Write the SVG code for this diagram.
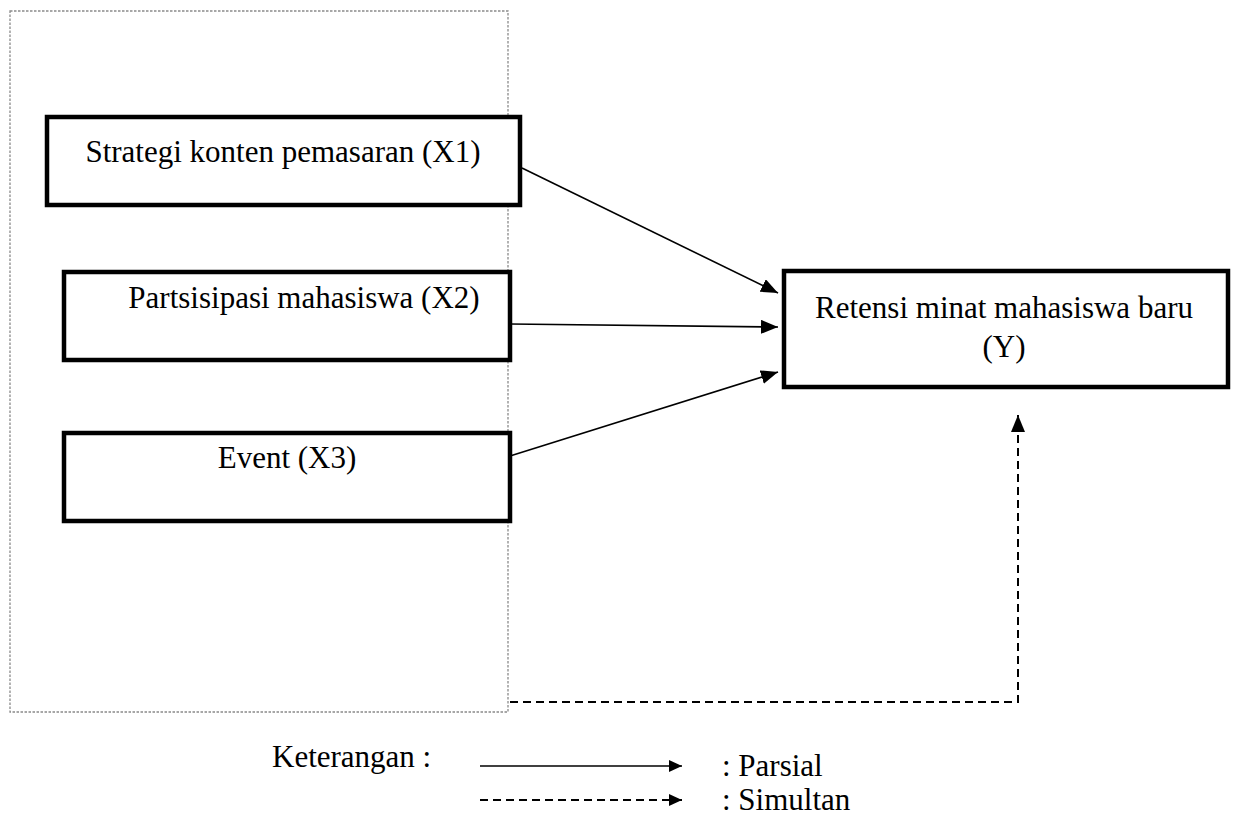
<svg xmlns="http://www.w3.org/2000/svg" width="1240" height="818" viewBox="0 0 1240 818">
<defs>
<style>
text{font-family:"Liberation Serif","Times New Roman",serif;font-size:31px;fill:#000}
.box{fill:#fff;stroke:#000;stroke-width:4.5}
.con{fill:none;stroke:#000;stroke-width:1.6}
.dash{fill:none;stroke:#000;stroke-width:2;stroke-dasharray:8 5}
.frame{fill:none;stroke:#8a8a8a;stroke-width:1.3;stroke-dasharray:2.5 1.5}
</style>
<marker id="ah" markerUnits="userSpaceOnUse" markerWidth="18" markerHeight="14" refX="17" refY="7" orient="auto">
<path d="M0,0 L17,7 L0,14 z" fill="#000"/>
</marker>
<marker id="ahs" markerUnits="userSpaceOnUse" markerWidth="14" markerHeight="12" refX="13" refY="6" orient="auto">
<path d="M0,0 L13,6 L0,12 z" fill="#000"/>
</marker>
</defs>
<rect class="frame" x="10" y="11" width="498" height="701"/>
<g id="x1"><rect class="box" x="47" y="117" width="473" height="88"/><text x="283" y="162" text-anchor="middle">Strategi konten pemasaran (X1)</text></g>
<g id="x2"><rect class="box" x="64" y="272" width="446" height="88"/><text x="304" y="308" text-anchor="middle">Partsisipasi mahasiswa (X2)</text></g>
<g id="x3"><rect class="box" x="64" y="433" width="446" height="88"/><text x="287" y="468" text-anchor="middle">Event (X3)</text></g>
<g id="y"><rect class="box" x="784" y="271" width="444" height="116"/><text x="1004" y="318" text-anchor="middle">Retensi minat mahasiswa baru</text><text x="1004" y="357" text-anchor="middle">(Y)</text></g>
<g id="connectors">
<line class="con" x1="522" y1="168" x2="778" y2="293" marker-end="url(#ah)"/>
<line class="con" x1="510" y1="324" x2="778" y2="327" marker-end="url(#ah)"/>
<line class="con" x1="510" y1="456" x2="778" y2="372" marker-end="url(#ah)"/>
<path class="dash" d="M510,702 H1018 V415" marker-end="url(#ah)"/>
</g>
<g id="legend">
<text x="272" y="767">Keterangan :</text>
<line class="con" x1="480" y1="766" x2="682" y2="766" marker-end="url(#ahs)"/>
<line class="dash" x1="480" y1="800" x2="682" y2="800" stroke-width="1.5" stroke-dasharray="6 4" marker-end="url(#ahs)"/>
<text x="722" y="776">: Parsial</text>
<text x="722" y="810">: Simultan</text>
</g>
</svg>
